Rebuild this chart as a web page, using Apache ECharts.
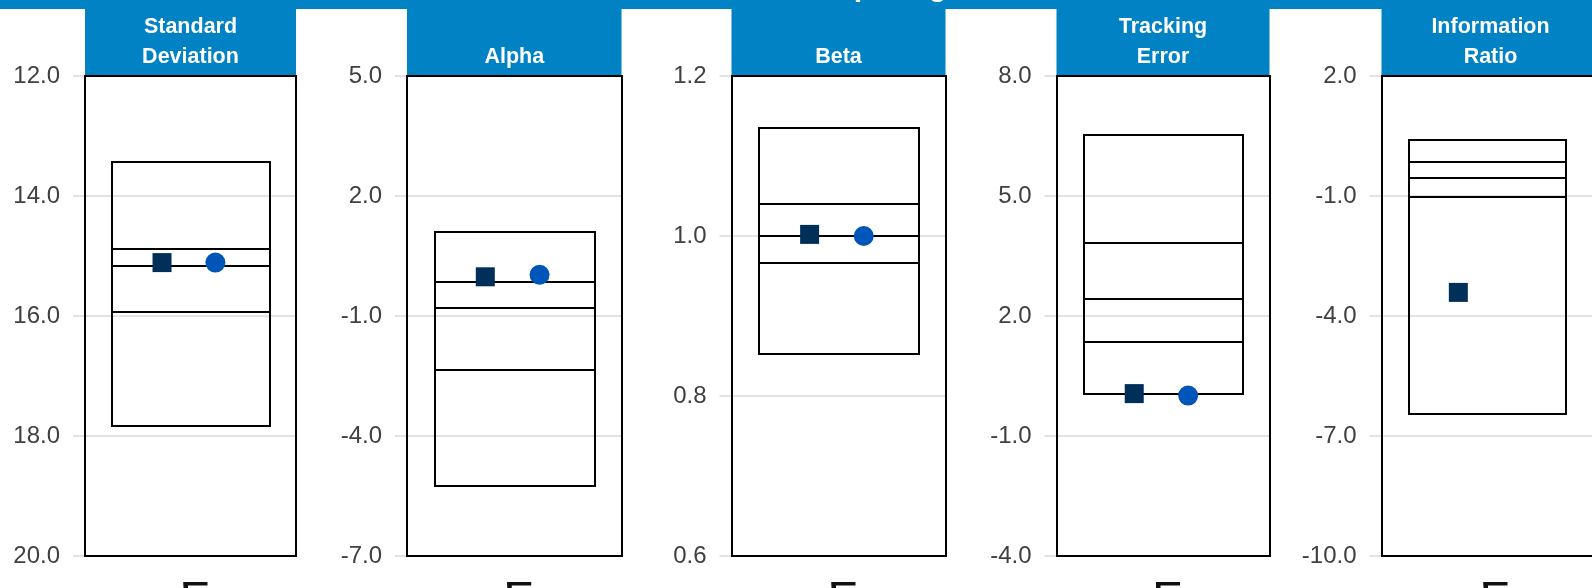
<!DOCTYPE html>
<html><head><meta charset="utf-8">
<script src="https://cdn.jsdelivr.net/npm/echarts@6/dist/echarts.min.js"></script>
<style>html,body{margin:0;padding:0;background:#fff}#c{width:1592px;height:588px}</style>
</head><body><div id="c"></div>
<script>
// ---- data ----
const panelTitles = [['Standard','Deviation'],['Alpha'],['Beta'],['Tracking','Error'],['Information','Ratio']];
const axisMin = [12, -7, 0.6, -4, -10];
const axisMax = [20, 5, 1.2, 8, 2];
const axisStep = [2, 3, 0.2, 3, 3];
const axisInverse = [true, false, false, false, false];
// peer-group box lines, top edge to bottom edge (5th, 25th, median, 75th, 95th percentile)
const boxStdDev   = [13.43, 14.89, 15.16, 15.93, 17.83];
const boxAlpha    = [1.09, -0.14, -0.80, -2.36, -5.24];
const boxBeta     = [1.135, 1.040, 1.000, 0.966, 0.853];
const boxTracking = [6.52, 3.82, 2.43, 1.34, 0.04];
const boxInfo     = [0.40, -0.14, -0.54, -1.03, -6.46];
const squareValues = [15.11, -0.02, 1.002, 0.06, -3.41];
const circleValues = [15.11, 0.03, 1.000, 0.01, null];
const chartTitle = 'Risk Statistics Comparing Fund to Index';

// ---- layout / style ----
const boxes = [boxStdDev, boxAlpha, boxBeta, boxTracking, boxInfo];
const lefts = [85, 407, 731.5, 1056.5, 1381.5];
const widths = [211, 214.5, 214, 213, 218];
const TOP = 76, HEIGHT = 480;
const BLUE = '#0082C4';
const FONT = '"Liberation Sans", Arial, sans-serif';
const BOX_L = 0.13, BOX_R = 0.875, SQ_X = 0.365, CI_X = 0.618;

const chart = echarts.init(document.getElementById('c'), null, {renderer: 'canvas'});
const grids = [], xAxes = [], yAxes = [], series = [], graphic = [];

graphic.push({type: 'rect', shape: {x: 0, y: 0, width: 1592, height: 9}, style: {fill: BLUE}, z: 0});
graphic.push({type: 'text', left: 569, top: -28.5, z: 1,
  style: {text: chartTitle, fill: '#fff', font: 'bold 30.5px ' + FONT}});

boxes.forEach((box, i) => {
  grids.push({left: lefts[i], top: TOP, width: widths[i], height: HEIGHT, show: false});
  xAxes.push({gridIndex: i, type: 'value', min: 0, max: 1, show: false});
  yAxes.push({gridIndex: i, type: 'value', min: axisMin[i], max: axisMax[i], interval: axisStep[i],
    inverse: axisInverse[i],
    axisLine: {show: false},
    axisTick: {show: true, inside: false, length: 12, lineStyle: {color: '#d9d9d9', width: 1.5}},
    splitLine: {show: true, lineStyle: {color: '#d9d9d9', width: 1.5}},
    axisLabel: {margin: 25, fontSize: 24, color: '#404040', fontFamily: FONT,
      showMinLabel: true, showMaxLabel: true, formatter: v => Number(v).toFixed(1)}});
  series.push({type: 'custom', xAxisIndex: i, yAxisIndex: i, z: 3, silent: true,
    data: [box],
    renderItem: (params, api) => {
      const cs = params.coordSys;
      const ys = [0,1,2,3,4].map(k => Math.round(api.coord([0, api.value(k)])[1]));
      const xl = Math.round(api.coord([BOX_L, axisMin[i]])[0]);
      const xr = Math.round(api.coord([BOX_R, axisMin[i]])[0]);
      const st = {fill: null, stroke: '#000', lineWidth: 2};
      const children = [
        {type: 'rect', shape: {x: Math.round(cs.x), y: Math.round(cs.y), width: Math.round(cs.width), height: Math.round(cs.height)}, style: st},
        {type: 'rect', shape: {x: xl, y: Math.min(ys[0], ys[4]), width: xr - xl, height: Math.abs(ys[4] - ys[0])}, style: st}
      ];
      [1,2,3].forEach(k => children.push({type: 'line', shape: {x1: xl, y1: ys[k], x2: xr, y2: ys[k]}, style: st}));
      return {type: 'group', children};
    }});
  series.push({type: 'scatter', xAxisIndex: i, yAxisIndex: i, z: 5, symbol: 'rect', symbolSize: 19,
    itemStyle: {color: '#00305A', opacity: 1},
    data: [[SQ_X, squareValues[i]]]});
  if (circleValues[i] !== null) {
    series.push({type: 'scatter', xAxisIndex: i, yAxisIndex: i, z: 5, symbol: 'circle', symbolSize: 20,
      itemStyle: {color: '#0056B8', opacity: 1}, data: [[CI_X, circleValues[i]]]});
  }
  // header block
  graphic.push({type: 'rect', shape: {x: lefts[i], y: 9, width: widths[i], height: TOP - 10}, style: {fill: BLUE}, z: 0});
  const cx = lefts[i] + widths[i] / 2;
  const lines = panelTitles[i];
  const ys = lines.length === 2 ? [27.5, 57] : [57];
  lines.forEach((t, k) => graphic.push({type: 'text', x: cx, y: ys[k], z: 1,
    style: {text: t, fill: '#fff', font: 'bold 21.5px ' + FONT, textAlign: 'center', textVerticalAlign: 'middle'}}));
  // cropped marks at the bottom edge
  graphic.push({type: 'rect', shape: {x: cx - 7, y: 582, width: 24, height: 3.5}, style: {fill: '#111'}, z: 1});
  graphic.push({type: 'rect', shape: {x: cx - 7, y: 582, width: 4.5, height: 7}, style: {fill: '#111'}, z: 1});
});

chart.setOption({animation: false, backgroundColor: '#fff', grid: grids, xAxis: xAxes, yAxis: yAxes, series, graphic});
</script></body></html>
